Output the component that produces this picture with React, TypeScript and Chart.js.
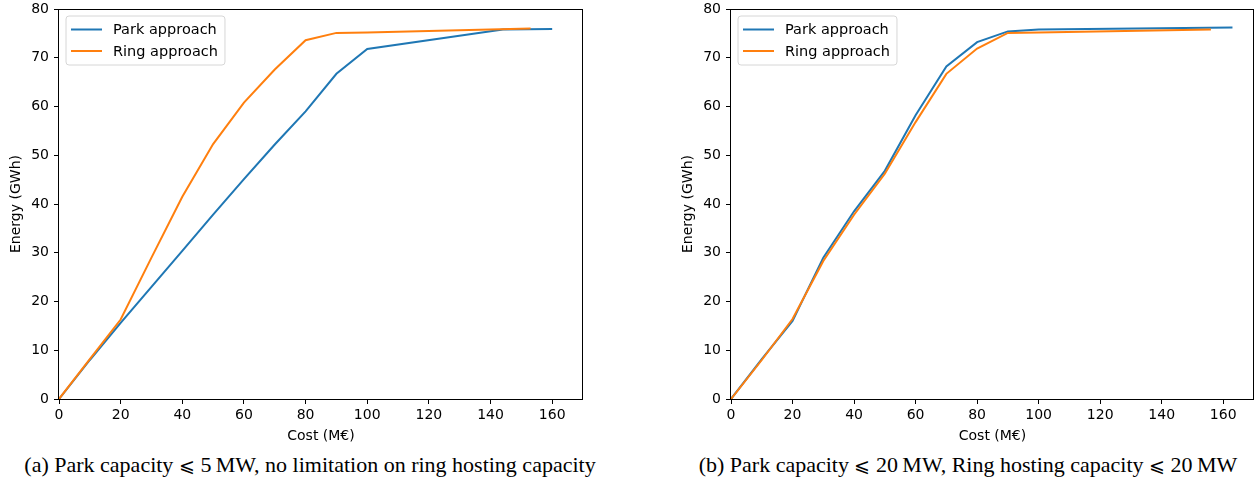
import React, { useEffect, useRef } from 'react';
import { Chart, registerables } from 'chart.js';

Chart.register(...registerables);

// ---- Data ----
// (a) Park capacity <= 5 MW, no limitation on ring hosting capacity
const parkCostA = [0, 10, 20, 30, 40, 50, 60, 70, 80, 90, 100, 144, 160];
const parkEnergyA = [0, 8.0, 15.6, 23.0, 30.4, 37.8, 45.1, 52.2, 59.0, 66.7, 71.8, 75.8, 75.9];
const ringCostA = [0, 10, 20, 30, 40, 50, 60, 70, 80, 90, 100, 153];
const ringEnergyA = [0, 8.2, 16.3, 29.0, 41.5, 52.3, 60.8, 67.6, 73.6, 75.1, 75.2, 76.0];

// (b) Park capacity <= 20 MW, Ring hosting capacity <= 20 MW
const parkCostB = [0, 10, 20, 30, 40, 50, 60, 70, 80, 90, 100, 163];
const parkEnergyB = [0, 8.2, 16.0, 29.0, 38.5, 46.8, 58.2, 68.2, 73.2, 75.4, 75.8, 76.2];
const ringCostB = [0, 10, 20, 30, 40, 50, 60, 70, 80, 90, 100, 156];
const ringEnergyB = [0, 8.0, 16.4, 28.3, 37.8, 46.2, 56.8, 66.7, 71.9, 75.1, 75.2, 75.8];

const seriesLabels = ['Park approach', 'Ring approach'];
const seriesColors = ['#1f77b4', '#ff7f0e'];

const xTitle = 'Cost (M€)';
const yTitle = 'Energy (GWh)';
const LEQ = '\u2A7D';
const captionA = ['(a) Park capacity ', LEQ, ' 5\u2009MW, no limitation on ring hosting capacity'];
const captionB = ['(b) Park capacity ', LEQ, ' 20\u2009MW, Ring hosting capacity ', LEQ, ' 20\u2009MW'];

const FONT = '"DejaVu Sans", sans-serif';
const FS = 14;
const LEG_FS = 14.5;

const toPoints = (xs: number[], ys: number[]) => xs.map((x, i) => ({ x, y: ys[i] }));

const framePlugin = {
  id: 'mplFrame',
  afterDraw(chart: any) {
    const { ctx, chartArea } = chart;
    ctx.save();
    ctx.strokeStyle = '#000';
    ctx.lineWidth = 1;
    const l = Math.round(chartArea.left) - 0.5;
    const t = Math.round(chartArea.top) + 0.5;
    const r = Math.round(chartArea.right) - 0.5;
    const b = Math.round(chartArea.bottom) + 0.5;
    ctx.strokeRect(l, t, r - l, b - t);
    ctx.restore();
  },
};

const legendPlugin = {
  id: 'mplLegend',
  afterDatasetsDraw(chart: any) {
    const { ctx, chartArea } = chart;
    const items = chart.data.datasets.map((d: any) => ({ label: d.label, color: d.borderColor }));
    ctx.save();
    ctx.font = `${LEG_FS}px ${FONT}`;
    const textW = Math.max(...items.map((i: any) => ctx.measureText(i.label).width));
    const x = chartArea.left + 7;
    const y = chartArea.top + 7;
    const w = 5 + 31 + 11 + textW + 7;
    const h = 49;
    const rad = 3;
    ctx.beginPath();
    ctx.moveTo(x + rad, y);
    ctx.lineTo(x + w - rad, y);
    ctx.arcTo(x + w, y, x + w, y + rad, rad);
    ctx.lineTo(x + w, y + h - rad);
    ctx.arcTo(x + w, y + h, x + w - rad, y + h, rad);
    ctx.lineTo(x + rad, y + h);
    ctx.arcTo(x, y + h, x, y + h - rad, rad);
    ctx.lineTo(x, y + rad);
    ctx.arcTo(x, y, x + rad, y, rad);
    ctx.closePath();
    ctx.fillStyle = 'rgba(255,255,255,0.8)';
    ctx.fill();
    ctx.strokeStyle = '#d6d6d6';
    ctx.lineWidth = 1;
    ctx.stroke();
    items.forEach((it: any, i: number) => {
      const cy = y + 13.5 + i * 21.5;
      ctx.beginPath();
      ctx.strokeStyle = it.color;
      ctx.lineWidth = 2;
      ctx.moveTo(x + 5, cy);
      ctx.lineTo(x + 36, cy);
      ctx.stroke();
      ctx.fillStyle = '#000';
      ctx.textBaseline = 'middle';
      ctx.textAlign = 'left';
      ctx.fillText(it.label, x + 47, cy + 1);
    });
    ctx.restore();
  },
};

function makeConfig(parkX: number[], parkY: number[], ringX: number[], ringY: number[], padRight: number) {
  const tickFont = { family: FONT, size: FS };
  return {
    type: 'line' as const,
    data: {
      datasets: [
        {
          label: seriesLabels[0],
          data: toPoints(parkX, parkY),
          borderColor: seriesColors[0],
          backgroundColor: seriesColors[0],
          borderWidth: 2,
          pointRadius: 0,
          tension: 0,
          order: 1,
        },
        {
          label: seriesLabels[1],
          data: toPoints(ringX, ringY),
          borderColor: seriesColors[1],
          backgroundColor: seriesColors[1],
          borderWidth: 2,
          pointRadius: 0,
          tension: 0,
          order: 0,
        },
      ],
    },
    options: {
      responsive: false,
      animation: false as const,
      devicePixelRatio: 1,
      layout: { padding: { top: 9, left: 0, right: padRight, bottom: 0 } },
      plugins: { legend: { display: false }, tooltip: { enabled: false } },
      scales: {
        x: {
          type: 'linear' as const,
          min: 0,
          max: 170,
          border: { display: false },
          grid: { drawOnChartArea: false, drawTicks: true, tickLength: 5, color: '#000', tickWidth: 1 },
          ticks: {
            stepSize: 20,
            includeBounds: false,
            autoSkip: false,
            maxRotation: 0,
            color: '#000',
            font: tickFont,
            padding: 3,
          },
          title: { display: true, text: xTitle, color: '#000', font: tickFont, padding: { top: 0, bottom: 5 } },
          afterFit: (s: any) => {
            s.height = 51;
            s.paddingLeft = 0;
            s.paddingRight = 0;
          },
        },
        y: {
          type: 'linear' as const,
          min: 0,
          max: 80,
          border: { display: false },
          grid: { drawOnChartArea: false, drawTicks: true, tickLength: 5, color: '#000', tickWidth: 1 },
          ticks: { stepSize: 10, includeBounds: false, color: '#000', font: tickFont, padding: 5 },
          title: { display: true, text: yTitle, color: '#000', font: tickFont, padding: { top: 8, bottom: 0 } },
          afterFit: (s: any) => {
            s.width = 59;
            s.paddingTop = 0;
            s.paddingBottom = 0;
          },
        },
      },
    },
    plugins: [framePlugin, legendPlugin],
  };
}

function ChartPanel(props: {
  left: number;
  width: number;
  padRight: number;
  parkX: number[];
  parkY: number[];
  ringX: number[];
  ringY: number[];
}) {
  const ref = useRef<HTMLCanvasElement | null>(null);
  useEffect(() => {
    if (!ref.current) return;
    const chart = new Chart(
      ref.current,
      makeConfig(props.parkX, props.parkY, props.ringX, props.ringY, props.padRight) as any
    );
    return () => chart.destroy();
  }, []);
  return (
    <canvas
      ref={ref}
      width={props.width}
      height={450}
      style={{ position: 'absolute', left: props.left, top: 0, width: props.width, height: 450 }}
    />
  );
}

const captionStyle: React.CSSProperties = {
  position: 'absolute',
  top: 451,
  fontFamily: '"Liberation Serif", "Times New Roman", serif',
  fontSize: 22,
  lineHeight: '28px',
  color: '#000',
  textAlign: 'center',
  whiteSpace: 'nowrap',
};

function Caption(props: { parts: string[]; left: number; width: number }) {
  return (
    <div style={{ ...captionStyle, left: props.left, width: props.width }}>
      {props.parts.map((p, i) =>
        p === LEQ ? (
          <span key={i} style={{ fontSize: '0.85em' }}>
            {p}
          </span>
        ) : (
          <span key={i}>{p}</span>
        )
      )}
    </div>
  );
}

export default function App() {
  return (
    <div style={{ position: 'fixed', left: 0, top: 0, width: 1255, height: 479, background: '#fff', overflow: 'hidden' }}>
      <ChartPanel left={0} width={620} padRight={37} parkX={parkCostA} parkY={parkEnergyA} ringX={ringCostA} ringY={ringEnergyA} />
      <ChartPanel left={672} width={583} padRight={1} parkX={parkCostB} parkY={parkEnergyB} ringX={ringCostB} ringY={ringEnergyB} />
      <Caption parts={captionA} left={0} width={620} />
      <Caption parts={captionB} left={668} width={600} />
    </div>
  );
}
